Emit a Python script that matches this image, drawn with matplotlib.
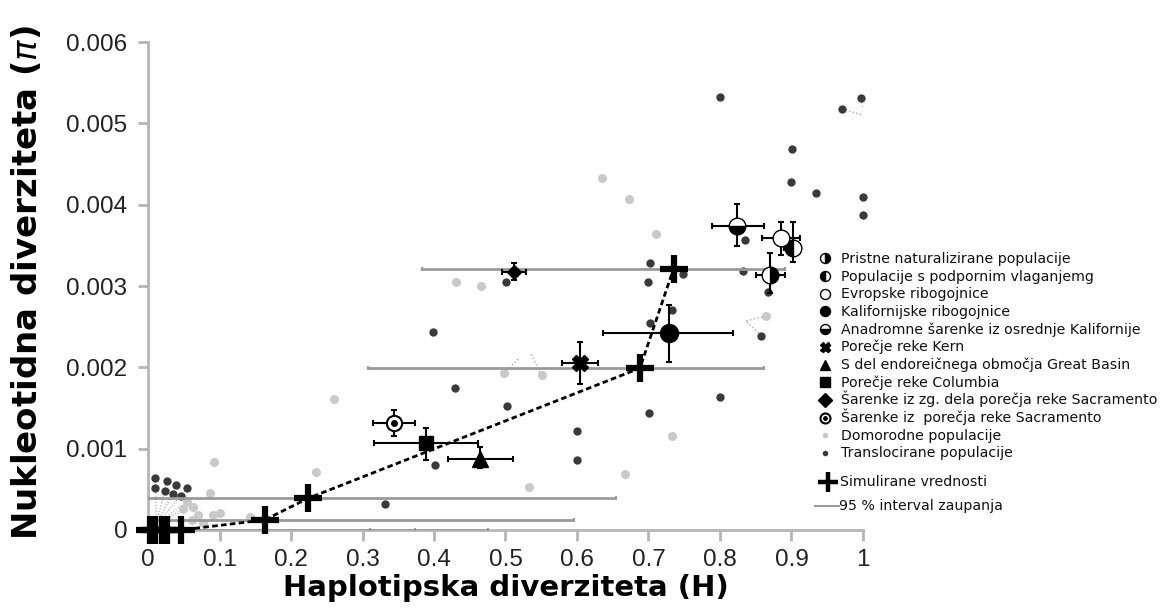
import matplotlib
matplotlib.use("Agg")
from matplotlib import pyplot as plt
from matplotlib.lines import Line2D

# simulirane vrednosti (H, pi) in 95 % intervali zaupanja za H
sim_h = [0.003, 0.010, 0.019, 0.027, 0.046, 0.163, 0.224, 0.688, 0.735]
sim_pi = [0.0, 0.0, 0.0, 0.0, 0.0, 0.000123, 0.00039, 0.00199, 0.00321]
sim_h_lo = [0.0, 0.0, 0.0, 0.0, 0.0, 0.0, 0.0, 0.307, 0.383]
sim_h_hi = [0.06, 0.164, 0.31, 0.373, 0.475, 0.596, 0.655, 0.862, 0.891]

# skupine populacij s standardnimi napakami
grp_labels = [
    "Pristne naturalizirane populacije",
    "Populacije s podpornim vlaganjemg",
    "Evropske ribogojnice",
    "Kalifornijske ribogojnice",
    "Anadromne šarenke iz osrednje Kalifornije",
    "Porečje reke Kern",
    "S del endoreičnega območja Great Basin",
    "Porečje reke Columbia",
    "Šarenke iz zg. dela porečja reke Sacramento",
    "Šarenke iz  porečja reke Sacramento",
]
grp_h = [0.870, 0.9025, 0.886, 0.7287, 0.824, 0.604, 0.464, 0.389, 0.512, 0.344]
grp_pi = [0.00314, 0.003465, 0.00359, 0.00242, 0.00374, 0.00205, 0.00087, 0.001066, 0.003176, 0.00132]
grp_h_lo = [0.851, 0.890, 0.859, 0.637, 0.789, 0.579, 0.419, 0.316, 0.4956, 0.314]
grp_h_hi = [0.891, 0.914, 0.912, 0.8186, 0.862, 0.630, 0.510, 0.461, 0.5287, 0.373]
grp_pi_lo = [0.00291, 0.00330, 0.00338, 0.00207, 0.00349, 0.00180, 0.00076, 0.00086, 0.00307, 0.001156]
grp_pi_hi = [0.00340, 0.00379, 0.00379, 0.00277, 0.00401, 0.00231, 0.001025, 0.00125, 0.00328, 0.00147]

# domorodne populacije
nat_h = [0.6345, 0.673, 0.711, 0.864, 0.431, 0.466, 0.498, 0.5506, 0.26, 0.733,
         0.533, 0.667, 0.2345, 0.0928, 0.0867, 0.054, 0.063, 0.049, 0.070,
         0.077, 0.0914, 0.1007, 0.1427, 0.061]
nat_pi = [0.00433, 0.00407, 0.00364, 0.00263, 0.00305, 0.002995, 0.00193, 0.0019, 0.00161, 0.00115,
          0.000525, 0.00069, 0.00071, 0.00083, 0.00046, 0.00035, 0.00028, 0.00026, 0.000185,
          0.00009, 0.000185, 0.00021, 0.000164, 0.00012]

# translocirane populacije
tr_h = [0.0098, 0.026, 0.039, 0.055, 0.0098, 0.0238, 0.0354, 0.046,
        0.332, 0.401, 0.399, 0.429, 0.5007, 0.5017, 0.5996, 0.5996,
        0.702, 0.6998, 0.748, 0.7324, 0.702, 0.701, 0.800, 0.858,
        0.8326, 0.8676, 0.835,
        0.800, 0.971, 0.997, 0.901, 0.900, 0.934, 1.0, 1.0]
tr_pi = [0.000636, 0.000606, 0.000553, 0.000513, 0.000513, 0.000483, 0.000443, 0.000418,
         0.00032, 0.0008, 0.00244, 0.00174, 0.00305, 0.00153, 0.00122, 0.00086,
         0.00328, 0.00305, 0.00315, 0.00271, 0.00255, 0.00144, 0.00163, 0.00239,
         0.00319, 0.00293, 0.00357,
         0.00532, 0.00518, 0.00531, 0.00469, 0.00428, 0.00414, 0.00409, 0.00387]

# pikcaste povezave (x-ji in y-i posameznih lomljenk)
lead_h = [[0.498, 0.520], [0.5506, 0.536], [0.864, 0.836, 0.858], [0.971, 1.003, 0.997]]
lead_pi = [[0.00193, 0.00212], [0.0019, 0.00216], [0.00263, 0.00257, 0.00239],
           [0.00518, 0.00509, 0.00531]]
fan_h = [0.0098, 0.026, 0.039, 0.055, 0.0098, 0.0238, 0.0354, 0.046, 0.054, 0.063, 0.049]
fan_pi = [0.000636, 0.000606, 0.000553, 0.000513, 0.000513, 0.000483, 0.000443, 0.000418,
          0.00035, 0.00028, 0.00026]
fan_origin = (0.012, 0.00008)

DARK = "#3a3a3a"
LIGHT = "#c9c9c9"
CI_GRAY = "#9a9a9a"
W, H = 1161, 608


def fig_xy(px, py):
    # piksli od zgornjega levega kota -> koordinate slike
    return px / W, 1 - py / H


fig = plt.figure(figsize=(W / 100, H / 100), dpi=100)
ax = fig.add_axes([0.1275, 0.1283, 0.6158, 0.8026])
ax.set_xlim(0, 1)
ax.set_ylim(0, 0.006)

# pikcaste povezave
for hx, py in zip(lead_h, lead_pi):
    ax.plot(hx, py, ls=":", color="#aaaaaa", lw=1, zorder=1)
for hx, py in zip(fan_h, fan_pi):
    ax.plot([fan_origin[0], hx], [fan_origin[1], py], ls=":", color="#bbbbbb", lw=0.8, zorder=1)

ax.plot(nat_h, nat_pi, "o", ms=6.5, color=LIGHT, mec="none", zorder=2, clip_on=False)
ax.plot(tr_h, tr_pi, "o", ms=6, color=DARK, mec="none", zorder=3, clip_on=False)

# intervali zaupanja simuliranih vrednosti
for h, p, lo, hi in zip(sim_h, sim_pi, sim_h_lo, sim_h_hi):
    eb = ax.errorbar([h], [p], xerr=[[h - lo], [hi - h]], fmt="none", ecolor=CI_GRAY,
                     elinewidth=2, capsize=1.5, capthick=1.5, zorder=3)
    for cap in eb[1]:
        cap.set_color("#444444")

ax.plot(sim_h, sim_pi, ls=(0, (2, 1.2)), color="black", lw=2, zorder=4)
ax.plot(sim_h, sim_pi, "+", ms=20, mew=4.5, color="black", zorder=6, clip_on=False)

# skupine
styles = [
    dict(marker="o", ms=12, fillstyle="right", mfc="black", mfcalt="white", mec="black"),
    dict(marker="o", ms=12, fillstyle="left", mfc="black", mfcalt="white", mec="black"),
    dict(marker="o", ms=12, mfc="white", mec="black"),
    dict(marker="o", ms=13, mfc="black", mec="black"),
    dict(marker="o", ms=12, fillstyle="bottom", mfc="black", mfcalt="white", mec="black"),
    dict(marker="X", ms=11, mfc="black", mec="black"),
    dict(marker="^", ms=12, mfc="black", mec="black"),
    dict(marker="s", ms=10, mfc="black", mec="black"),
    dict(marker="D", ms=7.5, mfc="black", mec="black"),
    dict(marker="o", ms=11, mfc="white", mec="black", mew=1.5),
]
leg_styles = []
for i, st in enumerate(styles):
    h, p = grp_h[i], grp_pi[i]
    ax.errorbar([h], [p], xerr=[[h - grp_h_lo[i]], [grp_h_hi[i] - h]],
                yerr=[[p - grp_pi_lo[i]], [grp_pi_hi[i] - p]], fmt="none",
                ecolor="black", elinewidth=1.5, capsize=2.5, capthick=1.5, zorder=7)
    kw = dict(st)
    if "mfcalt" in kw:
        kw["markerfacecoloralt"] = kw.pop("mfcalt")
    ax.plot([h], [p], ls="none", zorder=8, **kw)
    if i == len(styles) - 1:
        ax.plot([h], [p], "o", ms=4, color="black", zorder=9)
    kw["ms"] = 7.2
    leg_styles.append(kw)

leg_styles.append(dict(marker="o", ms=4, color=LIGHT, mec="none"))
leg_styles.append(dict(marker="o", ms=4, color=DARK, mec="none"))
labels = grp_labels + ["Domorodne populacije", "Translocirane populacije"]

# legenda, vrstica za vrstico
row0, step = 258.3, 17.7
for i, (kw, text) in enumerate(zip(leg_styles, labels)):
    yc = row0 + step * i
    fig.add_artist(Line2D(*[[v] for v in fig_xy(825, yc)], transform=fig.transFigure,
                          ls="none", **kw))
    if i == len(grp_labels) - 1:
        fig.add_artist(Line2D(*[[v] for v in fig_xy(825, yc)], transform=fig.transFigure,
                              ls="none", marker="o", ms=2.5, color="black"))
    fig.text(*fig_xy(841, yc + 4.5), text, fontsize=10.2, family="DejaVu Sans",
             va="baseline", ha="left", color="#111111")

fig.add_artist(Line2D(*[[v] for v in fig_xy(828, 482)], transform=fig.transFigure,
                      ls="none", marker="+", ms=14, mew=3.2, color="black"))
fig.text(*fig_xy(840, 486.5), "Simulirane vrednosti", fontsize=10.2,
         family="DejaVu Sans", va="baseline", ha="left", color="#111111")
x0, y0 = fig_xy(815, 505.7)
x1, _ = fig_xy(839, 505.7)
fig.add_artist(Line2D([x0, x1], [y0, y0], transform=fig.transFigure, color=CI_GRAY, lw=1.5))
fig.text(*fig_xy(839, 510.2), "95 % interval zaupanja", fontsize=10.2,
         family="DejaVu Sans", va="baseline", ha="left", color="#111111")

for side in ("top", "right"):
    ax.spines[side].set_visible(False)
for side in ("left", "bottom"):
    ax.spines[side].set_color("#b5b5b5")
    ax.spines[side].set_linewidth(2)

ax.set_xticks([0, 0.1, 0.2, 0.3, 0.4, 0.5, 0.6, 0.7, 0.8, 0.9, 1.0])
ax.set_xticklabels(["0", "0.1", "0.2", "0.3", "0.4", "0.5", "0.6", "0.7", "0.8", "0.9", "1"])
ax.set_yticks([0, 0.001, 0.002, 0.003, 0.004, 0.005, 0.006])
ax.set_yticklabels(["0", "0.001", "0.002", "0.003", "0.004", "0.005", "0.006"])
ax.tick_params(axis="both", direction="out", color="#b5b5b5", width=2,
               labelsize=17.5, labelcolor="#222222")
ax.tick_params(axis="x", length=8, pad=6)
ax.tick_params(axis="y", length=7, pad=8)
for lbl in ax.get_xticklabels() + ax.get_yticklabels():
    lbl.set_family("Liberation Sans")

ax.set_xlabel("Haplotipska diverziteta (H)", fontsize=21, fontweight="bold",
              family="DejaVu Sans", labelpad=2)
ax.set_ylabel(r"Nukleotidna diverziteta ($\pi$)", fontsize=24.5, fontweight="bold",
              family="DejaVu Sans")
ax.yaxis.set_label_coords(-0.146, 0.508)

fig.savefig("out.png", dpi=100)
